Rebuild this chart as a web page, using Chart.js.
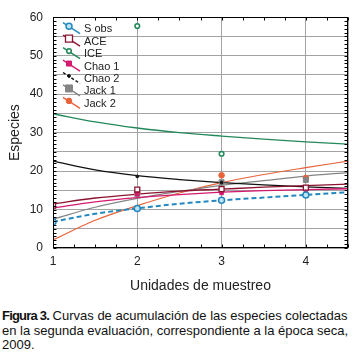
<!DOCTYPE html>
<html lang="es">
<head>
<meta charset="UTF-8">
<title>Figura 3</title>
<script src="https://cdn.jsdelivr.net/npm/chart.js"></script>
<style>
    body { margin: 0; background: #fff; width: 356px; height: 356px; overflow: hidden; font-family: "Liberation Sans", Arial, sans-serif; }
    #wrap { position: relative; width: 356px; height: 300px; }
    #caption { position: absolute; left: 2px; top: 309px; font-size: 13px; line-height: 14.5px; color: #111; white-space: nowrap; }
    #caption b { letter-spacing: -0.8px; }
</style>
</head>
<body>
<div id="wrap"><canvas id="curvas" width="356" height="300"></canvas></div>
<div id="caption"><b>Figura 3.</b> Curvas de acumulación de las especies colectadas<br>en la segunda evaluación, correspondiente a la época seca,<br>2009.</div>

<script>
    // unidades de muestreo y valores observados / estimados en cada una
    const unidades = [1, 2, 3, 4];
    const sObs  = [6.8, 10.3, 12.4, 13.8];
    const ace   = [11.0, 15.2, 15.3, 15.7];
    const ice   = [null, 57.7, 24.5, null];
    const chao1 = [null, 14.0, 14.3, 14.3];
    const chao2 = [null, 18.6, 17.0, 15.8];
    const jack1 = [null, 14.0, 17.1, 17.7];
    const jack2 = [null, 14.2, 18.9, 18.2];

    const curvaX   = [1, 1.5, 2, 2.5, 3, 3.5, 4, 4.5];
    const sObsFit  = [6.8, 8.9, 10.3, 11.5, 12.4, 13.1, 13.8, 14.5];
    const aceFit   = [11.5, 13.0, 14.0, 14.8, 15.3, 15.8, 16.2, 16.6];
    const iceFit   = [34.9, 32.8, 31.2, 30.0, 29.1, 28.3, 27.6, 27.0];
    const chao1Fit = [10.4, 12.0, 13.1, 13.9, 14.5, 14.9, 15.2, 15.4];
    const chao2Fit = [22.6, 20.3, 18.8, 17.8, 17.0, 16.4, 15.9, 15.5];
    const jack1Fit = [7.5, 10.6, 12.9, 14.7, 16.3, 17.5, 18.7, 19.6];
    const jack2Fit = [2.1, 7.2, 11.0, 14.3, 17.0, 19.1, 20.9, 22.6];

    const xTicks = [1, 2, 3, 4];
    const yLabels = [0, 10, 20, 30, 40, 50, 60];

    const series = [
        { name: 'S obs',  color: '#2488c0', pts: sObs,  fit: sObsFit,  marker: 'circle', r: 3,   fill: '#bfe4f5', bw: 1.5, width: 2, dash: [5, 3] },
        { name: 'ACE',    color: '#8c1430', pts: ace,   fit: aceFit,   marker: 'rect',   r: 3.5, fill: '#fff',    bw: 1.3, width: 1.3 },
        { name: 'ICE',    color: '#23885a', pts: ice,   fit: iceFit,   marker: 'circle', r: 2.3, fill: '#fff',    bw: 1.6, width: 1.3 },
        { name: 'Chao 1', color: '#d6186e', pts: chao1, fit: chao1Fit, marker: 'rect',   r: 2.5, fill: '#d6186e', bw: 1,   width: 1.3 },
        { name: 'Chao 2', color: '#111111', pts: chao2, fit: chao2Fit, marker: 'circle', r: 1.4, fill: '#111111', bw: 1,   width: 1.2, legendDash: [3, 2] },
        { name: 'Jack 1', color: '#858585', pts: jack1, fit: jack1Fit, marker: 'rect',   r: 3.5, fill: '#858585', bw: 1,   width: 1.2 },
        { name: 'Jack 2', color: '#e8623a', pts: jack2, fit: jack2Fit, marker: 'circle', r: 2.8, fill: '#e8623a', bw: 1,   width: 1.2 }
    ];

    const datasets = [];
    series.forEach(s => {
        datasets.push({
            label: s.name,
            data: unidades.map((u, i) => ({ x: u, y: s.pts[i] })).filter(p => p.y !== null),
            showLine: false,
            pointStyle: s.marker,
            pointRadius: s.r,
            pointBackgroundColor: s.fill,
            pointBorderColor: s.color,
            pointBorderWidth: s.bw
        });
    });
    series.forEach(s => {
        datasets.push({
            label: s.name + ' ajuste',
            data: curvaX.map((x, i) => ({ x, y: s.fit[i] })),
            showLine: true,
            borderColor: s.color,
            borderWidth: s.width,
            borderDash: s.dash || [],
            pointRadius: 0,
            cubicInterpolationMode: 'monotone'
        });
    });

    function drawMarker(ctx, s, x, y) {
        ctx.fillStyle = s.fill;
        ctx.strokeStyle = s.color;
        ctx.lineWidth = s.bw;
        ctx.setLineDash([]);
        ctx.beginPath();
        if (s.marker === 'rect') {
            ctx.rect(x - s.r, y - s.r, s.r * 2, s.r * 2);
        } else {
            ctx.arc(x, y, s.r, 0, Math.PI * 2);
        }
        ctx.fill();
        ctx.stroke();
    }

    const framePlugin = {
        id: 'frame',
        afterDraw(chart) {
            const { ctx, chartArea: a, scales: { x, y } } = chart;
            const L = Math.round(a.left) + 0.5, R = Math.round(a.right) - 0.5;
            const T = Math.round(a.top) + 0.5, B = Math.round(a.bottom) - 0.5;
            ctx.save();
            ctx.strokeStyle = '#000';
            ctx.lineWidth = 1;
            ctx.setLineDash([]);
            ctx.strokeRect(L, T, R - L, B - T);
            ctx.beginPath();
            for (let v = 0; v <= 60; v++) {
                const py = Math.round(y.getPixelForValue(v)) + 0.5;
                ctx.moveTo(L, py); ctx.lineTo(L + 3, py);
                ctx.moveTo(R - 3, py); ctx.lineTo(R, py);
            }
            for (let v = 1; v <= 4.5; v += 0.25) {
                const px = Math.round(x.getPixelForValue(v)) + 0.5;
                ctx.moveTo(px, B); ctx.lineTo(px, B - 3);
                ctx.moveTo(px, T); ctx.lineTo(px, T + 3);
            }
            ctx.stroke();

            // leyenda dentro del area
            ctx.font = '11px "Liberation Sans", Arial, sans-serif';
            ctx.textBaseline = 'middle';
            series.forEach((s, i) => {
                const yc = a.top + 11.5 + i * 12.45;
                const x0 = a.left + 10;
                ctx.strokeStyle = s.color;
                ctx.lineWidth = 1.4;
                ctx.setLineDash(s.legendDash || []);
                ctx.beginPath();
                ctx.moveTo(x0, yc - 6);
                ctx.lineTo(x0 + 17, yc + 5);
                ctx.stroke();
                drawMarker(ctx, s, x0 + 6, yc - 2.5);
                ctx.fillStyle = '#222';
                ctx.fillText(s.name, a.left + 31, yc + 0.5);
            });
            ctx.restore();
        }
    };

    new Chart(document.getElementById('curvas'), {
        type: 'scatter',
        data: { datasets },
        options: {
            responsive: false,
            animation: false,
            events: [],
            layout: { padding: { top: 7, right: 8, left: 0, bottom: 0 } },
            plugins: { legend: { display: false }, tooltip: { enabled: false } },
            scales: {
                x: {
                    type: 'linear',
                    min: 1,
                    max: 4.5,
                    afterFit: s => { s.height = 52; },
                    afterBuildTicks: s => { s.ticks = xTicks.concat([4.5]).map(v => ({ value: v })); },
                    ticks: {
                        padding: 6,
                        color: '#222',
                        font: { size: 12, family: '"Liberation Sans", Arial, sans-serif' },
                        callback: v => xTicks.includes(v) ? v : ''
                    },
                    grid: { color: '#a3a3a3', drawTicks: false },
                    border: { display: false },
                    title: {
                        display: true,
                        text: 'Unidades de muestreo',
                        color: '#222',
                        padding: { top: 0, bottom: 5 },
                        font: { size: 14, family: '"Liberation Sans", Arial, sans-serif' }
                    }
                },
                y: {
                    min: 0,
                    max: 60,
                    afterFit: s => { s.width = 53; },
                    ticks: {
                        stepSize: 5,
                        padding: 10,
                        color: '#222',
                        font: { size: 12, family: '"Liberation Sans", Arial, sans-serif' },
                        callback: v => yLabels.includes(v) ? v : ''
                    },
                    grid: { color: '#a3a3a3', drawTicks: false },
                    border: { display: false },
                    title: {
                        display: true,
                        text: 'Especies',
                        color: '#222',
                        padding: { top: 7, bottom: 0 },
                        font: { size: 14, family: '"Liberation Sans", Arial, sans-serif' }
                    }
                }
            }
        },
        plugins: [framePlugin]
    });
</script>
</body>
</html>
